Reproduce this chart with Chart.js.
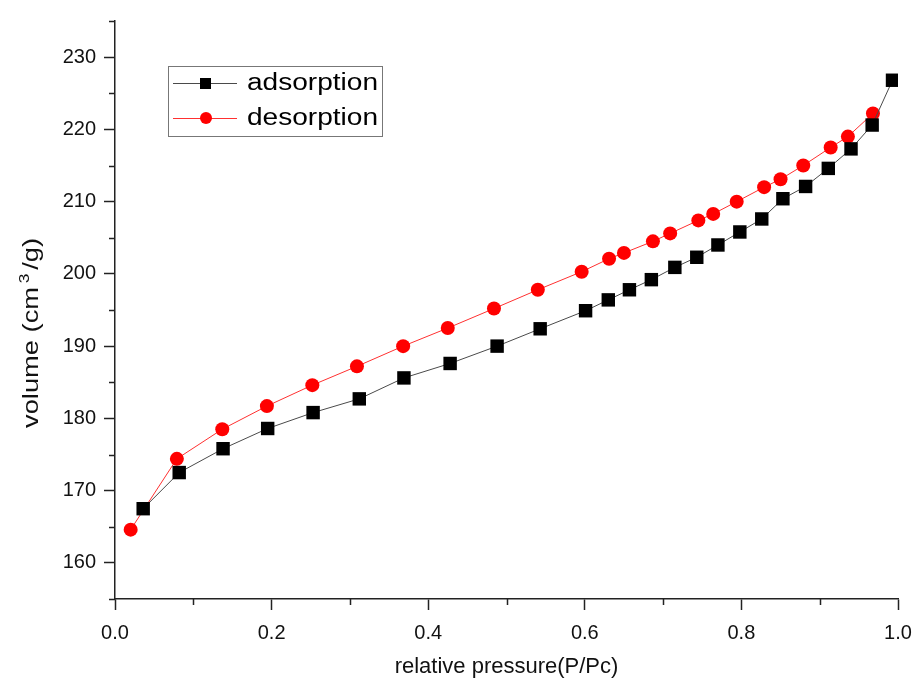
<!DOCTYPE html>
<html>
<head>
<meta charset="utf-8">
<script src="https://cdn.jsdelivr.net/npm/chart.js@4.4.0/dist/chart.umd.min.js"></script>
<style>
  html, body { margin: 0; padding: 0; background: #fff; }
  #wrap { width: 915px; height: 688px; }
</style>
</head>
<body>
<div id="wrap"><canvas id="isotherm"></canvas></div>
<script>
// Nitrogen isotherm: relative pressure vs adsorbed volume
const adsPressure = [0.036, 0.082, 0.138, 0.195, 0.253, 0.312, 0.369, 0.428, 0.488, 0.543, 0.601, 0.630, 0.657,
                     0.685, 0.715, 0.743, 0.770, 0.798, 0.826, 0.853, 0.882, 0.911, 0.940, 0.967, 0.993];
const adsVolume   = [167.5, 172.5, 175.8, 178.6, 180.8, 182.7, 185.6, 187.6, 190.0, 192.4, 194.9, 196.4, 197.8,
                     199.2, 200.9, 202.3, 204.0, 205.8, 207.6, 210.4, 212.1, 214.6, 217.3, 220.6, 226.8];
const desPressure = [0.020, 0.079, 0.137, 0.194, 0.252, 0.309, 0.368, 0.425, 0.484, 0.540, 0.596, 0.631,
                     0.650, 0.687, 0.709, 0.745, 0.764, 0.794, 0.829, 0.850, 0.879, 0.914, 0.936, 0.968];
const desVolume   = [164.6, 174.4, 178.5, 181.7, 184.6, 187.2, 190.0, 192.5, 195.2, 197.8, 200.3, 202.1,
                     202.9, 204.5, 205.6, 207.4, 208.3, 210.0, 212.0, 213.1, 215.0, 217.5, 219.0, 222.2];

const seriesNames = ['adsorption', 'desorption'];
const xTitle = 'relative pressure(P/Pc)';
// y title pieces: base text, superscript, tail
const yTitleParts = ['volume (cm', '3', '/g)'];

const FONT = 'Liberation Sans, Arial, sans-serif';
const AXIS = '#222';

function toPoints(xs, ys) {
  return xs.map((x, i) => ({ x: x, y: ys[i] }));
}

// short minor ticks between the labelled ones
const minorTicks = {
  id: 'minorTicks',
  afterDraw(chart) {
    const ctx = chart.ctx;
    const xs = chart.scales.x, ys = chart.scales.y;
    ctx.save();
    ctx.strokeStyle = AXIS;
    ctx.lineWidth = 1.5;
    ctx.beginPath();
    ys.ticks.forEach(t => {
      if (Math.round(t.value) % 10 !== 0) {
        const py = Math.round(ys.getPixelForValue(t.value)) + 0.5;
        ctx.moveTo(ys.right - 6, py);
        ctx.lineTo(ys.right, py);
      }
    });
    xs.ticks.forEach(t => {
      if (Math.round(t.value * 10) % 2 !== 0) {
        const px = Math.round(xs.getPixelForValue(t.value)) + 0.5;
        ctx.moveTo(px, xs.top);
        ctx.lineTo(px, xs.top + 6);
      }
    });
    ctx.stroke();
    ctx.restore();
  }
};

// rotated y title with a raised "3"
const yTitlePlugin = {
  id: 'yTitle',
  afterDraw(chart) {
    const ctx = chart.ctx;
    const base = '22px ' + FONT, sup = '14px ' + FONT;
    ctx.save();
    ctx.font = base;
    const w0 = ctx.measureText(yTitleParts[0]).width;
    const w2 = ctx.measureText(yTitleParts[2]).width;
    ctx.font = sup;
    const w1 = ctx.measureText(yTitleParts[1]).width;
    const natural = w0 + 3 + w1 + 3 + w2;
    const stretch = 190 / natural;
    ctx.translate(38, 428);
    ctx.rotate(-Math.PI / 2);
    ctx.scale(stretch, 1);
    ctx.fillStyle = '#111';
    ctx.textBaseline = 'alphabetic';
    ctx.font = base;
    ctx.fillText(yTitleParts[0], 0, 0);
    ctx.font = sup;
    ctx.fillText(yTitleParts[1], w0 + 3, -9);
    ctx.font = base;
    ctx.fillText(yTitleParts[2], w0 + 3 + w1 + 3, 0);
    ctx.restore();
  }
};

// boxed legend inside the plot, top left
const boxLegend = {
  id: 'boxLegend',
  afterDraw(chart) {
    const ctx = chart.ctx;
    const left = 168, top = 66, w = 214, h = 70;
    ctx.save();
    ctx.strokeStyle = '#777';
    ctx.lineWidth = 1;
    ctx.strokeRect(left + 0.5, top + 0.5, w, h);
    ctx.font = '23px ' + FONT;
    ctx.textBaseline = 'middle';
    const stretch = 131 / ctx.measureText(seriesNames[0]).width;
    chart.data.datasets.forEach((ds, i) => {
      const cy = top + 17 + i * 35;
      ctx.strokeStyle = ds.borderColor;
      ctx.lineWidth = 1;
      ctx.beginPath();
      ctx.moveTo(left + 5, cy + 0.5);
      ctx.lineTo(left + 69, cy + 0.5);
      ctx.stroke();
      ctx.fillStyle = ds.pointBackgroundColor;
      if (ds.pointStyle === 'rect') {
        ctx.fillRect(left + 32, cy - 5, 11, 11);
      } else {
        ctx.beginPath();
        ctx.arc(left + 38, cy, 6, 0, Math.PI * 2);
        ctx.fill();
      }
      ctx.save();
      ctx.translate(left + 79, cy + 1);
      ctx.scale(stretch, 1);
      ctx.fillStyle = '#000';
      ctx.fillText(ds.label, 0, 0);
      ctx.restore();
    });
    ctx.restore();
  }
};

new Chart(document.getElementById('isotherm'), {
  type: 'scatter',
  data: {
    datasets: [{
      label: seriesNames[0],
      data: toPoints(adsPressure, adsVolume),
      showLine: true,
      borderColor: '#4a4a4a',
      borderWidth: 1,
      pointStyle: 'rect',
      pointRadius: 9.5,
      pointHoverRadius: 9.5,
      pointBackgroundColor: '#000',
      pointBorderWidth: 0
    }, {
      label: seriesNames[1],
      data: toPoints(desPressure, desVolume),
      showLine: true,
      borderColor: '#ff3030',
      borderWidth: 1,
      pointStyle: 'circle',
      pointRadius: 7,
      pointHoverRadius: 7,
      pointBackgroundColor: '#ff0000',
      pointBorderWidth: 0
    }]
  },
  options: {
    responsive: true,
    maintainAspectRatio: false,
    animation: false,
    layout: { padding: { top: 21, right: 17, left: 0, bottom: 0 } },
    plugins: {
      legend: { display: false },
      tooltip: { enabled: false }
    },
    scales: {
      x: {
        type: 'linear',
        min: 0,
        max: 1,
        afterFit(scale) {
          scale.height = 89;
          scale.paddingLeft = 0;
          scale.paddingRight = 0;
        },
        border: { color: AXIS, width: 1.5 },
        grid: {
          drawOnChartArea: false,
          tickLength: 11,
          tickWidth: 1.5,
          tickColor: c => (Math.round(c.tick.value * 10) % 2 === 0 ? AXIS : 'rgba(0,0,0,0)')
        },
        ticks: {
          stepSize: 0.1,
          autoSkip: false,
          maxRotation: 0,
          padding: 11,
          color: '#111',
          font: { family: FONT, size: 20 },
          callback: v => (Math.round(v * 10) % 2 === 0 ? v.toFixed(1) : '')
        },
        title: {
          display: true,
          text: xTitle,
          color: '#111',
          font: { family: FONT, size: 22 },
          padding: { top: 0, bottom: 8 }
        }
      },
      y: {
        type: 'linear',
        min: 155,
        max: 235,
        afterFit(scale) {
          scale.width = 115;
          scale.paddingTop = 0;
          scale.paddingBottom = 0;
        },
        border: { color: AXIS, width: 1.5 },
        grid: {
          drawOnChartArea: false,
          tickLength: 11,
          tickWidth: 1.5,
          tickColor: c => (Math.round(c.tick.value) % 10 === 0 ? AXIS : 'rgba(0,0,0,0)')
        },
        ticks: {
          stepSize: 5,
          autoSkip: false,
          padding: 8,
          color: '#111',
          font: { family: FONT, size: 20 },
          callback: v => (Math.round(v) % 10 === 0 ? String(v) : '')
        },
        title: { display: false }
      }
    }
  },
  plugins: [minorTicks, yTitlePlugin, boxLegend]
});
</script>
</body>
</html>
